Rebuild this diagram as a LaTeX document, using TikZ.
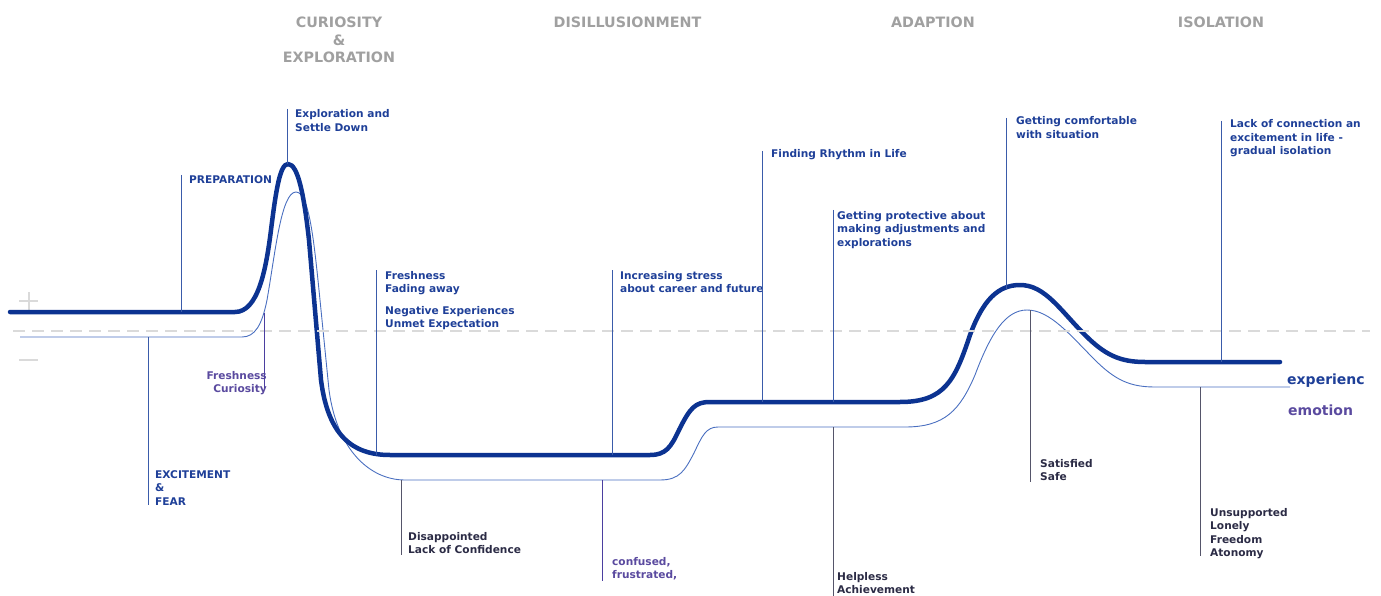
\documentclass[tikz,border=0pt]{standalone}
\usepackage{fontspec}
\setmainfont{DejaVu Sans}
\definecolor{thickc}{HTML}{0C3391}
\definecolor{thinc}{HTML}{4A6FC0}
\definecolor{lblue}{HTML}{1E3F98}
\definecolor{lpurple}{HTML}{5A4A9F}
\definecolor{ldark}{HTML}{2B2B45}
\definecolor{tgray}{HTML}{A0A0A0}
\definecolor{dashc}{HTML}{DADADA}
\definecolor{leadb}{HTML}{3A5BAA}
\definecolor{leadp}{HTML}{4B3FA0}
\definecolor{leadd}{HTML}{55556A}
\newcommand\mlL[1]{\begin{tabular}[t]{@{}l@{}}#1\end{tabular}}
\newcommand\mlR[1]{\begin{tabular}[t]{@{}r@{}}#1\end{tabular}}
\newcommand\mlC[1]{\begin{tabular}[t]{@{}c@{}}#1\end{tabular}}
\tikzset{
  lbl/.style={anchor=base west, inner sep=0pt, font=\fontsize{10.6}{13.5}\selectfont\bfseries},
  lblr/.style={anchor=base east, inner sep=0pt, font=\fontsize{10.6}{13.5}\selectfont\bfseries},
  ttl/.style={anchor=base, inner sep=0pt, text=tgray, font=\fontsize{14.3}{17.5}\selectfont\bfseries},
  leg/.style={anchor=base west, inner sep=0pt, font=\fontsize{14}{16}\selectfont\bfseries},
  expline/.style={line width=4.5pt, color=thickc, line cap=round, line join=round},
  emoline/.style={line width=0.9pt, color=thinc},
  leadb/.style={line width=0.9pt, color=leadb},
  leadp/.style={line width=0.9pt, color=leadp},
  leadd/.style={line width=0.9pt, color=leadd},
}
\begin{document}
\begin{tikzpicture}[x=1pt,y=-1pt]
\useasboundingbox (0,0) rectangle (1381,596);
% titles
\node[ttl] (t1) at (339,28) {\mlC{CURIOSITY\\\&\\EXPLORATION}};
\node[ttl] (t2) at (627.5,28) {DISILLUSIONMENT};
\node[ttl] (t3) at (933,28) {ADAPTION};
\node[ttl] (t4) at (1221,28) {ISOLATION};
% plus / minus
\draw[dashc, line width=2pt] (19,301) -- (38,301) (28.5,292) -- (28.5,310);
\draw[dashc, line width=2pt] (19,360) -- (38,360);
% emotion curve
\draw[emoline] (20,337) -- (242,337) .. controls (255,337) and (262,325) .. (267,300)
  .. controls (275,255) and (281,192) .. (296,192) .. controls (309,192) and (314,240) .. (320,300)
  -- (329,390) .. controls (337,450) and (370,480) .. (405,480) -- (660,480)
  .. controls (680,480) and (685,470) .. (694,453) .. controls (702,436) and (706,427) .. (718,427)
  -- (905,427) .. controls (945,427) and (960,410) .. (975,375) .. controls (990,335) and (1005,310) .. (1027,310)
  .. controls (1050,310) and (1070,335) .. (1095,360) .. controls (1115,380) and (1130,387) .. (1155,387) -- (1290,387);
% experience curve
\draw[expline] (10,312) -- (235,312) .. controls (258,312) and (266,270) .. (271,230)
  .. controls (276,190) and (280,164) .. (288,164) .. controls (298,164) and (304,195) .. (309,240)
  -- (321,380) .. controls (328,435) and (352,455) .. (390,455) -- (650,455)
  .. controls (666,455) and (671,447) .. (679,430) .. controls (690,408) and (695,402) .. (710,402)
  -- (900,402) .. controls (945,402) and (955,380) .. (970,335) .. controls (983,300) and (998,285) .. (1020,285)
  .. controls (1045,285) and (1060,310) .. (1085,335) .. controls (1105,355) and (1120,362) .. (1145,362) -- (1280,362);
% neutral axis (drawn over the curves)
\draw[dashc, line width=2.5pt, dash pattern=on 12pt off 7pt] (13,331) -- (1370,331);
% experience labels
\node[lbl, text=lblue] (prep) at (189,184) {PREPARATION};
\node[lbl, text=lblue] (expl) at (295,118) {\mlL{Exploration and\\Settle Down}};
\node[lbl, text=lblue] (fresh) at (385,279) {\mlL{Freshness\\Fading away}};
\node[lbl, text=lblue] (neg) at (385,314) {\mlL{Negative Experiences\\Unmet Expectation}};
\node[lbl, text=lblue] (stress) at (620,279) {\mlL{Increasing stress\\about career and future}};
\node[lbl, text=lblue] (rhythm) at (771,157.5) {Finding Rhythm in Life};
\node[lbl, text=lblue] (protect) at (837,219) {\mlL{Getting protective about\\making adjustments and\\explorations}};
\node[lbl, text=lblue] (comfort) at (1016,125) {\mlL{Getting comfortable\\with situation}};
\node[lbl, text=lblue] (lack) at (1230,128) {\mlL{Lack of connection an\\excitement in life -\\gradual isolation}};
% emotion labels
\node[lbl, text=lblue] (excite) at (155,478) {\mlL{EXCITEMENT\\\&\\FEAR}};
\node[lblr, text=lpurple] (curio) at (267,379) {\mlR{Freshness\\Curiosity}};
\node[lbl, text=ldark] (disap) at (408,540) {\mlL{Disappointed\\Lack of Confidence}};
\node[lbl, text=lpurple] (confu) at (612,565) {\mlL{confused,\\frustrated,}};
\node[lbl, text=ldark] (help) at (837,580) {\mlL{Helpless\\Achievement}};
\node[lbl, text=ldark] (satis) at (1040,467) {\mlL{Satisfied\\Safe}};
\node[lbl, text=ldark] (unsup) at (1210,516) {\mlL{Unsupported\\Lonely\\Freedom\\Atonomy}};
% legend
\node[leg, text=lblue] (legexp) at (1287,384.5) {experienc};
\node[leg, text=lpurple] (legemo) at (1288,415.5) {emotion};
% leader coordinates
\coordinate (a1) at (181,175); \coordinate (b1) at (181,312);
\coordinate (a2) at (287,109); \coordinate (b2) at (287,164);
\coordinate (a3) at (376,270); \coordinate (b3) at (376,455);
\coordinate (a4) at (612,270); \coordinate (b4) at (612,455);
\coordinate (a5) at (762,151); \coordinate (b5) at (762,402);
\coordinate (a6) at (833,210); \coordinate (b6) at (833,402);
\coordinate (a7) at (1006,118); \coordinate (b7) at (1006,290);
\coordinate (a8) at (1221,121); \coordinate (b8) at (1221,362);
\coordinate (e1) at (148,337); \coordinate (f1) at (148,505);
\coordinate (e2) at (264,313); \coordinate (f2) at (264,388);
\coordinate (e3) at (401,480); \coordinate (f3) at (401,555);
\coordinate (e4) at (602,480); \coordinate (f4) at (602,581);
\coordinate (e5) at (833,427); \coordinate (f5) at (833,596);
\coordinate (e6) at (1030,310); \coordinate (f6) at (1030,482);
\coordinate (e7) at (1200,387); \coordinate (f7) at (1200,556);
\foreach \i in {1,...,8} {\draw[leadb] (a\i) -- (b\i);}
\draw[leadb] (e1) -- (f1);
\draw[leadp] (e2) -- (f2);
\draw[leadd] (e3) -- (f3);
\draw[leadp] (e4) -- (f4);
\draw[leadd] (e5) -- (f5);
\draw[leadd] (e6) -- (f6);
\draw[leadd] (e7) -- (f7);
\end{tikzpicture}
\end{document}
